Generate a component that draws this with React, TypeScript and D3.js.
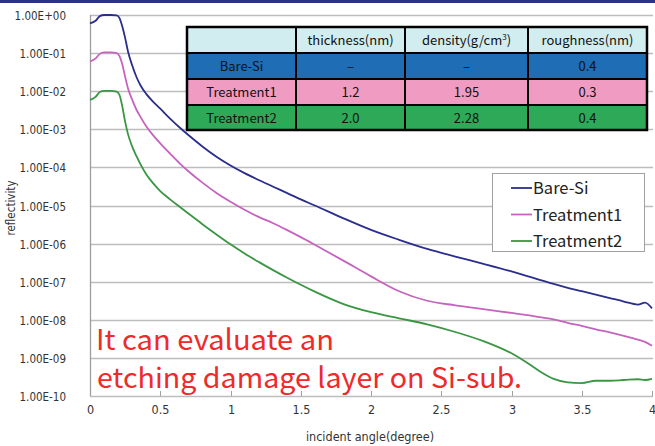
import * as d3 from "d3";

// incident angle (degree) and log10(reflectivity)
const angles = [0, 0.04, 0.07, 0.1, 0.15, 0.19, 0.21, 0.23, 0.25, 0.27, 0.3, 0.33, 0.36, 0.4, 0.45, 0.5, 0.57, 0.64, 0.7, 0.8, 0.9, 1.0, 1.1, 1.2, 1.3, 1.4, 1.5, 1.6, 1.8, 2.0, 2.2, 2.4, 2.6, 2.8, 3.0, 3.1, 3.2, 3.3, 3.4, 3.5, 3.6, 3.7, 3.8, 3.9, 3.95, 4.0];

const bareSi = [-0.22, -0.15, -0.03, 0, 0, -0.01, -0.08, -0.3, -0.6, -0.95, -1.32, -1.62, -1.85, -2.07, -2.28, -2.46, -2.72, -2.96, -3.15, -3.45, -3.72, -3.95, -4.15, -4.33, -4.5, -4.67, -4.84, -5.0, -5.33, -5.64, -5.9, -6.14, -6.34, -6.53, -6.73, -6.84, -6.95, -7.06, -7.16, -7.25, -7.34, -7.43, -7.52, -7.6, -7.55, -7.7];
const treatment1 = [-1.22, -1.14, -1.02, -0.98, -0.98, -1.0, -1.08, -1.3, -1.62, -1.92, -2.22, -2.48, -2.68, -2.92, -3.16, -3.37, -3.64, -3.9, -4.1, -4.4, -4.67, -4.9, -5.11, -5.3, -5.46, -5.64, -5.83, -6.03, -6.44, -6.86, -7.25, -7.5, -7.62, -7.72, -7.82, -7.87, -7.93, -7.99, -8.08, -8.16, -8.25, -8.33, -8.42, -8.52, -8.58, -8.68];
const treatment2 = [-2.23, -2.15, -2.02, -1.99, -1.99, -2.01, -2.1, -2.4, -2.8, -3.12, -3.45, -3.7, -3.92, -4.18, -4.42, -4.62, -4.84, -5.04, -5.21, -5.49, -5.76, -6.02, -6.26, -6.48, -6.69, -6.89, -7.08, -7.26, -7.58, -7.8, -7.96, -8.12, -8.32, -8.56, -8.88, -9.1, -9.35, -9.55, -9.64, -9.66, -9.6, -9.6, -9.58, -9.56, -9.58, -9.55];

const seriesNames = ["Bare-Si", "Treatment1", "Treatment2"];
const seriesColors = ["#2b2e8c", "#c564bf", "#3a9642"];

const yTickLabels = ["1.00E+00", "1.00E-01", "1.00E-02", "1.00E-03", "1.00E-04", "1.00E-05", "1.00E-06", "1.00E-07", "1.00E-08", "1.00E-09", "1.00E-10"];
const xTickLabels = ["0", "0.5", "1", "1.5", "2", "2.5", "3", "3.5", "4"];

// table
const tableHeader = ["", "thickness(nm)", "density(g/cm3)", "roughness(nm)"];
const tableRows = [
  ["Bare-Si", "\u2013", "\u2013", "0.4"],
  ["Treatment1", "1.2", "1.95", "0.3"],
  ["Treatment2", "2.0", "2.28", "0.4"],
];
const rowColors = ["#1e6db5", "#f09cc2", "#2ea957"];

const W = 655, H = 446;
const m = { left: 90, right: 653, top: 15, bottom: 396 };

const axisFont = "'Liberation Sans Narrow', 'DejaVu Sans Condensed', Arial, sans-serif";
const jpFont = "'Noto Sans CJK JP', 'Noto Sans', sans-serif";

export default function App() {
  const x = d3.scaleLinear().domain([0, 4]).range([m.left, 652]);
  const y = d3.scaleLog().domain([1e-10, 1]).range([m.bottom, m.top]);

  const all = [bareSi, treatment1, treatment2];
  const line = d3
    .line<[number, number]>()
    .x((d) => x(d[0]))
    .y((d) => y(Math.pow(10, d[1])))
    .curve(d3.curveMonotoneX);

  const colX = [187, 296, 405, 528, 647];
  const rowY = [27, 53, 79, 105, 130];

  return (
    <svg width={W} height={H} style={{ position: "absolute", left: 0, top: 0, background: "#fff" }}>
      <rect x={0} y={0} width={W} height={H} fill="#fff" />
      <rect x={0} y={0} width={W} height={3} fill="#2a3480" />

      {/* gridlines */}
      {yTickLabels.map((t, i) => {
        const yy = Math.round(y(Math.pow(10, -i))) + 0.5;
        return (
          <g key={t}>
            <line x1={m.left} x2={m.right} y1={yy} y2={yy} stroke="#bdbdbd" strokeWidth={1.3} />
            <text x={66} y={yy + 4} textAnchor="end" fontSize={11.5} fill="#333" fontFamily={axisFont}>{t}</text>
          </g>
        );
      })}
      <line x1={m.left + 0.5} x2={m.left + 0.5} y1={m.top} y2={m.bottom} stroke="#9e9e9e" strokeWidth={1.3} />
      {xTickLabels.map((t) => {
        const xx = Math.round(x(+t)) + 0.5;
        return (
          <g key={t}>
            <line x1={xx} x2={xx} y1={m.bottom} y2={m.bottom - 5} stroke="#9e9e9e" />
            <text x={xx} y={414} textAnchor="middle" fontSize={12.5} fill="#333" fontFamily={axisFont}>{t}</text>
          </g>
        );
      })}

      <text transform={`translate(15,208) rotate(-90)`} textAnchor="middle" fontSize={11.5} fill="#333" fontFamily={axisFont}>reflectivity</text>
      <text x={370} y={441} textAnchor="middle" fontSize={12.5} fill="#333" fontFamily={axisFont}>incident angle(degree)</text>

      {/* series */}
      {all.map((s, i) => (
        <path
          key={seriesNames[i]}
          d={line(angles.map((a, j) => [a, s[j]] as [number, number])) || ""}
          fill="none"
          stroke={seriesColors[i]}
          strokeWidth={1.8}
        />
      ))}

      {/* table */}
      <g fontFamily={jpFont} fontSize={13} fill="#111">
        <rect x={colX[0]} y={rowY[0]} width={colX[4] - colX[0]} height={rowY[1] - rowY[0]} fill="#d2edf0" />
        {rowColors.map((c, i) => (
          <rect key={c} x={colX[0]} y={rowY[i + 1]} width={colX[4] - colX[0]} height={rowY[i + 2] - rowY[i + 1]} fill={c} />
        ))}
        {tableHeader.map((h, j) =>
          j === 0 ? null : (
            <text key={h} x={(colX[j] + colX[j + 1]) / 2} y={rowY[0] + 18} textAnchor="middle">
              {j === 2 ? (
                <>
                  density(g/cm<tspan dy={-5} fontSize={8}>3</tspan><tspan dy={5}>)</tspan>
                </>
              ) : (
                h
              )}
            </text>
          )
        )}
        {tableRows.map((r, i) =>
          r.map((v, j) => (
            <text key={i + "-" + j} x={(colX[j] + colX[j + 1]) / 2} y={rowY[i + 1] + 18} textAnchor="middle">
              {v}
            </text>
          ))
        )}
        {rowY.slice(1, 4).map((yy) => (
          <line key={yy} x1={colX[0]} x2={colX[4]} y1={yy} y2={yy} stroke="#000" strokeWidth={2} />
        ))}
        {colX.slice(1, 4).map((xx) => (
          <line key={xx} x1={xx} x2={xx} y1={rowY[0]} y2={rowY[4]} stroke="#000" strokeWidth={2} />
        ))}
        <rect x={colX[0]} y={rowY[0]} width={colX[4] - colX[0]} height={rowY[4] - rowY[0]} fill="none" stroke="#000" strokeWidth={2.5} />
      </g>

      {/* legend */}
      <rect x={492.5} y={173.5} width={152} height={78} fill="#fff" stroke="#a0a0a0" />
      {seriesNames.map((n, i) => {
        const ly = 188 + i * 26.5;
        return (
          <g key={n}>
            <line x1={511} x2={532} y1={ly} y2={ly} stroke={seriesColors[i]} strokeWidth={1.8} />
            <text x={533} y={ly + 6} fontSize={16.5} fill="#222" fontFamily={jpFont}>{n}</text>
          </g>
        );
      })}

      {/* annotation */}
      <g fill="#ee2a2a" fontFamily={jpFont} fontSize={28}>
        <text x={96} y={350} textLength={238} lengthAdjust="spacingAndGlyphs">It can evaluate an</text>
        <text x={97} y={388} textLength={425} lengthAdjust="spacingAndGlyphs">etching damage layer on Si-sub.</text>
      </g>
    </svg>
  );
}
